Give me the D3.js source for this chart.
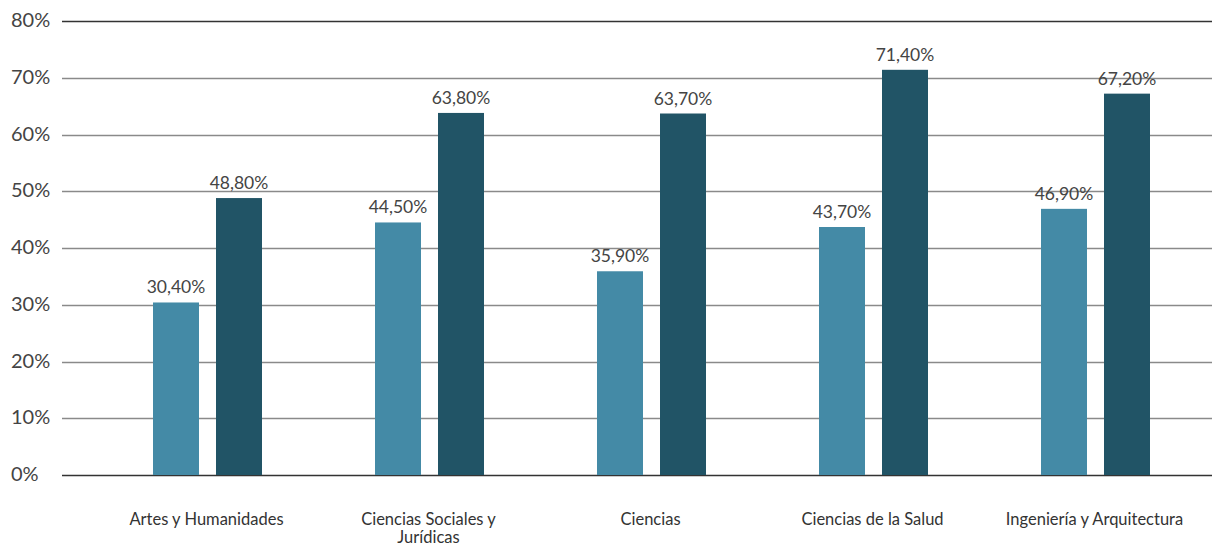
<!DOCTYPE html>
<html><head><meta charset="utf-8">
<script src="https://cdn.jsdelivr.net/npm/d3@7"></script>
<style>body{margin:0;background:#fff}svg{display:block}text{font-family:"Lato",sans-serif}</style>
</head><body>
<svg id="c" width="1212" height="546"></svg>
<script>
const categories = ["Artes y Humanidades", "Ciencias Sociales y Jurídicas", "Ciencias", "Ciencias de la Salud", "Ingeniería y Arquitectura"];
const categoryLines = [["Artes y Humanidades"], ["Ciencias Sociales y", "Jurídicas"], ["Ciencias"], ["Ciencias de la Salud"], ["Ingeniería y Arquitectura"]];
const seriesA = [30.4, 44.5, 35.9, 43.7, 46.9];
const seriesB = [48.8, 63.8, 63.7, 71.4, 67.2];
const yTicks = [0, 10, 20, 30, 40, 50, 60, 70, 80];

const svg = d3.select("#c");
const y = d3.scaleLinear().domain([0, 80]).range([475, 21]);
const x0 = d3.scaleBand().domain(categories).range([96.5, 1206.5]).padding(0);
const x1 = d3.scaleBand().domain(["a", "b"])
  .range([x0.bandwidth()/2 - 54.5, x0.bandwidth()/2 + 54.5]).paddingInner(17/63).paddingOuter(0);
const fmt = v => v.toFixed(2).replace(".", ",") + "%";

// gridlines
svg.append("g").selectAll("line").data(yTicks).join("line")
  .attr("x1", 62).attr("x2", 1212)
  .attr("y1", d => Math.round(y(d)) + 0.5).attr("y2", d => Math.round(y(d)) + 0.5)
  .attr("stroke", d => (d === 0 || d === 80) ? "#333" : "#8a8a8a").attr("stroke-width", 1.3);

// tick labels
svg.append("g").selectAll("text").data(yTicks).join("text")
  .attr("x", 11).attr("y", d => y(d) + 1).attr("dominant-baseline", "middle")
  .attr("font-size", 20).attr("fill", "#444").text(d => d + "%");

const series = [{k: "a", vals: seriesA, color: "#448aa6"}, {k: "b", vals: seriesB, color: "#215466"}];
series.forEach(s => {
  const g = svg.append("g");
  g.selectAll("rect").data(categories).join("rect")
    .attr("x", c => x0(c) + x1(s.k))
    .attr("width", x1.bandwidth())
    .attr("y", (c, i) => y(s.vals[i]))
    .attr("height", (c, i) => y(0) - y(s.vals[i]))
    .attr("fill", s.color);
  g.selectAll("text").data(categories).join("text")
    .attr("x", c => x0(c) + x1(s.k) + x1.bandwidth()/2)
    .attr("y", (c, i) => y(s.vals[i]) - 9)
    .attr("text-anchor", "middle").attr("font-size", 17.5).attr("fill", "#444")
    .text((c, i) => fmt(s.vals[i]));
});

// category labels
const cl = svg.append("g").selectAll("text").data(categories).join("text")
  .attr("y", 525)
  .attr("text-anchor", "middle").attr("font-size", 16.5).attr("fill", "#333");
cl.each(function(c, i) {
  const t = d3.select(this);
  categoryLines[i].forEach((ln, j) => {
    t.append("tspan").attr("x", x0(c) + x0.bandwidth()/2 - 1).attr("dy", j === 0 ? 0 : 18).text(ln);
  });
});
</script>
</body></html>
